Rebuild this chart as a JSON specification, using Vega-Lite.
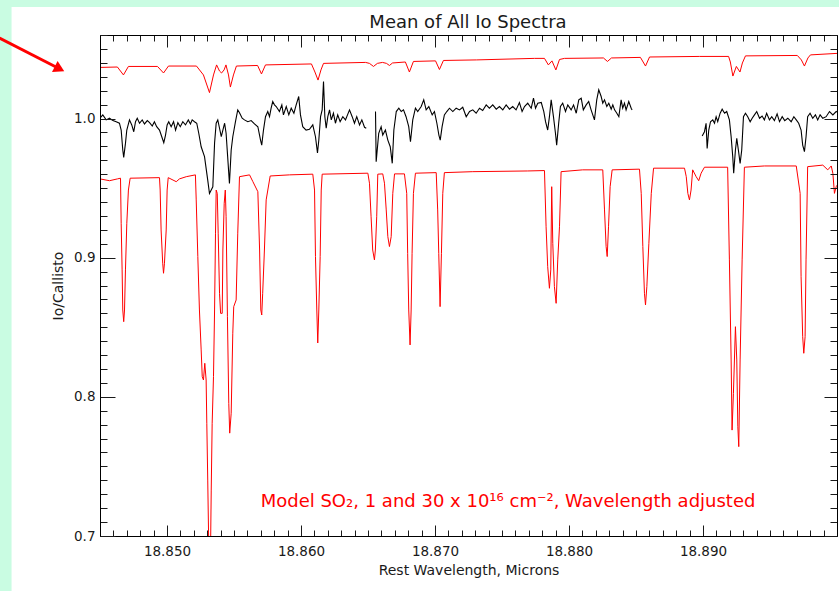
{
"$schema":"https://vega.github.io/schema/vega-lite/v6.json",
"width":737,"height":501,
"autosize":{"type":"none"},
"padding":{"left":100,"top":35,"right":2,"bottom":55},
"background":"#c9fce2",
"config":{"view":{"stroke":null},"axis":{"grid":false,"labelFont":"DejaVu Sans","titleFont":"DejaVu Sans","labelColor":"#1a1a1a","titleColor":"#1a1a1a","tickColor":"#1a1a1a","domainColor":"#000000","titleFontWeight":"normal"}},
"datasets":{
"observed":[
{"wavelength":18.845,"ratio":1.0002,"segment":1},{"wavelength":18.84521,"ratio":1.0026,"segment":1},{"wavelength":18.84546,"ratio":0.999,"segment":1},{"wavelength":18.84571,"ratio":1.0002,"segment":1},{"wavelength":18.84596,"ratio":0.9985,"segment":1},{"wavelength":18.84621,"ratio":0.9977,"segment":1},{"wavelength":18.84645,"ratio":0.9966,"segment":1},{"wavelength":18.84658,"ratio":0.9917,"segment":1},{"wavelength":18.8467,"ratio":0.9774,"segment":1},{"wavelength":18.84677,"ratio":0.9721,"segment":1},{"wavelength":18.8469,"ratio":0.9821,"segment":1},{"wavelength":18.847,"ratio":0.9917,"segment":1},{"wavelength":18.8472,"ratio":0.999,"segment":1},{"wavelength":18.84737,"ratio":0.9954,"segment":1},{"wavelength":18.84752,"ratio":0.9905,"segment":1},{"wavelength":18.84765,"ratio":0.9977,"segment":1},{"wavelength":18.84778,"ratio":1.0002,"segment":1},{"wavelength":18.84795,"ratio":0.9966,"segment":1},{"wavelength":18.84815,"ratio":0.999,"segment":1},{"wavelength":18.84832,"ratio":0.9961,"segment":1},{"wavelength":18.84853,"ratio":0.9985,"segment":1},{"wavelength":18.8487,"ratio":0.997,"segment":1},{"wavelength":18.8489,"ratio":0.9946,"segment":1},{"wavelength":18.84906,"ratio":0.9977,"segment":1},{"wavelength":18.84923,"ratio":0.9941,"segment":1},{"wavelength":18.84944,"ratio":0.9917,"segment":1},{"wavelength":18.84961,"ratio":0.9869,"segment":1},{"wavelength":18.84976,"ratio":0.9826,"segment":1},{"wavelength":18.84989,"ratio":0.9881,"segment":1},{"wavelength":18.85001,"ratio":0.9954,"segment":1},{"wavelength":18.85013,"ratio":0.9977,"segment":1},{"wavelength":18.85031,"ratio":0.9941,"segment":1},{"wavelength":18.85049,"ratio":0.9977,"segment":1},{"wavelength":18.85064,"ratio":0.9917,"segment":1},{"wavelength":18.85081,"ratio":0.997,"segment":1},{"wavelength":18.85099,"ratio":0.9941,"segment":1},{"wavelength":18.85118,"ratio":0.9977,"segment":1},{"wavelength":18.85138,"ratio":0.9954,"segment":1},{"wavelength":18.85159,"ratio":0.999,"segment":1},{"wavelength":18.85175,"ratio":0.9961,"segment":1},{"wavelength":18.85188,"ratio":0.999,"segment":1},{"wavelength":18.85205,"ratio":0.9977,"segment":1},{"wavelength":18.85222,"ratio":0.9966,"segment":1},{"wavelength":18.85237,"ratio":0.9894,"segment":1},{"wavelength":18.85255,"ratio":0.9797,"segment":1},{"wavelength":18.8528,"ratio":0.9726,"segment":1},{"wavelength":18.85304,"ratio":0.9557,"segment":1},{"wavelength":18.85317,"ratio":0.9461,"segment":1},{"wavelength":18.85342,"ratio":0.9509,"segment":1},{"wavelength":18.85355,"ratio":0.9824,"segment":1},{"wavelength":18.85367,"ratio":0.9966,"segment":1},{"wavelength":18.85379,"ratio":0.999,"segment":1},{"wavelength":18.85392,"ratio":0.993,"segment":1},{"wavelength":18.85405,"ratio":0.9869,"segment":1},{"wavelength":18.8543,"ratio":0.9966,"segment":1},{"wavelength":18.85441,"ratio":0.9894,"segment":1},{"wavelength":18.85466,"ratio":0.9534,"segment":1},{"wavelength":18.85479,"ratio":0.9774,"segment":1},{"wavelength":18.85491,"ratio":0.9869,"segment":1},{"wavelength":18.85511,"ratio":0.9977,"segment":1},{"wavelength":18.85528,"ratio":1.0062,"segment":1},{"wavelength":18.85541,"ratio":1.0042,"segment":1},{"wavelength":18.85561,"ratio":1.0002,"segment":1},{"wavelength":18.85578,"ratio":0.999,"segment":1},{"wavelength":18.85603,"ratio":0.9977,"segment":1},{"wavelength":18.85628,"ratio":0.9985,"segment":1},{"wavelength":18.85653,"ratio":0.9961,"segment":1},{"wavelength":18.85678,"ratio":0.9941,"segment":1},{"wavelength":18.85698,"ratio":0.9845,"segment":1},{"wavelength":18.85707,"ratio":0.9809,"segment":1},{"wavelength":18.8572,"ratio":0.9917,"segment":1},{"wavelength":18.85735,"ratio":1.0013,"segment":1},{"wavelength":18.85752,"ratio":1.005,"segment":1},{"wavelength":18.85765,"ratio":1.0013,"segment":1},{"wavelength":18.85777,"ratio":1.0074,"segment":1},{"wavelength":18.85789,"ratio":1.0122,"segment":1},{"wavelength":18.85802,"ratio":1.0098,"segment":1},{"wavelength":18.85815,"ratio":1.0086,"segment":1},{"wavelength":18.85839,"ratio":1.005,"segment":1},{"wavelength":18.85857,"ratio":1.0098,"segment":1},{"wavelength":18.85869,"ratio":1.0026,"segment":1},{"wavelength":18.8589,"ratio":1.0086,"segment":1},{"wavelength":18.85909,"ratio":1.0026,"segment":1},{"wavelength":18.85927,"ratio":1.0074,"segment":1},{"wavelength":18.85947,"ratio":1.0038,"segment":1},{"wavelength":18.85964,"ratio":1.0098,"segment":1},{"wavelength":18.85983,"ratio":1.0158,"segment":1},{"wavelength":18.85996,"ratio":1.0026,"segment":1},{"wavelength":18.86013,"ratio":0.9941,"segment":1},{"wavelength":18.86038,"ratio":0.9917,"segment":1},{"wavelength":18.86063,"ratio":0.9922,"segment":1},{"wavelength":18.86088,"ratio":0.9954,"segment":1},{"wavelength":18.86108,"ratio":0.9869,"segment":1},{"wavelength":18.86123,"ratio":0.9752,"segment":1},{"wavelength":18.86133,"ratio":0.9845,"segment":1},{"wavelength":18.86146,"ratio":1.0013,"segment":1},{"wavelength":18.86158,"ratio":1.0062,"segment":1},{"wavelength":18.86168,"ratio":1.0266,"segment":1},{"wavelength":18.86178,"ratio":1.0013,"segment":1},{"wavelength":18.86188,"ratio":0.993,"segment":1},{"wavelength":18.862,"ratio":1.0013,"segment":1},{"wavelength":18.86213,"ratio":1.0062,"segment":1},{"wavelength":18.86226,"ratio":0.999,"segment":1},{"wavelength":18.86242,"ratio":1.0038,"segment":1},{"wavelength":18.86257,"ratio":0.9966,"segment":1},{"wavelength":18.86274,"ratio":1.0026,"segment":1},{"wavelength":18.86292,"ratio":0.9977,"segment":1},{"wavelength":18.86312,"ratio":1.0013,"segment":1},{"wavelength":18.86332,"ratio":0.999,"segment":1},{"wavelength":18.86362,"ratio":1.0062,"segment":1},{"wavelength":18.86382,"ratio":1.0013,"segment":1},{"wavelength":18.86399,"ratio":0.9966,"segment":1},{"wavelength":18.86416,"ratio":1.0013,"segment":1},{"wavelength":18.86437,"ratio":0.9954,"segment":1},{"wavelength":18.86454,"ratio":0.999,"segment":1},{"wavelength":18.86474,"ratio":0.9937,"segment":1},{"wavelength":18.86487,"ratio":0.993,"segment":1},
{"wavelength":18.86556,"ratio":1.005,"segment":2},{"wavelength":18.86561,"ratio":0.969,"segment":2},{"wavelength":18.8658,"ratio":0.9894,"segment":2},{"wavelength":18.86598,"ratio":0.9941,"segment":2},{"wavelength":18.8661,"ratio":0.9881,"segment":2},{"wavelength":18.8663,"ratio":0.9917,"segment":2},{"wavelength":18.86648,"ratio":0.9845,"segment":2},{"wavelength":18.86666,"ratio":0.9797,"segment":2},{"wavelength":18.86681,"ratio":0.9678,"segment":2},{"wavelength":18.86693,"ratio":0.9917,"segment":2},{"wavelength":18.86711,"ratio":1.005,"segment":2},{"wavelength":18.8673,"ratio":1.0074,"segment":2},{"wavelength":18.86748,"ratio":1.005,"segment":2},{"wavelength":18.86765,"ratio":1.0062,"segment":2},{"wavelength":18.86784,"ratio":1.0013,"segment":2},{"wavelength":18.86804,"ratio":0.9941,"segment":2},{"wavelength":18.86817,"ratio":0.9833,"segment":2},{"wavelength":18.86834,"ratio":0.999,"segment":2},{"wavelength":18.86854,"ratio":1.0074,"segment":2},{"wavelength":18.86871,"ratio":1.005,"segment":2},{"wavelength":18.86897,"ratio":1.0086,"segment":2},{"wavelength":18.86916,"ratio":1.0134,"segment":2},{"wavelength":18.86934,"ratio":1.0062,"segment":2},{"wavelength":18.86954,"ratio":1.0086,"segment":2},{"wavelength":18.86979,"ratio":1.0026,"segment":2},{"wavelength":18.86996,"ratio":1.005,"segment":2},{"wavelength":18.87014,"ratio":0.9966,"segment":2},{"wavelength":18.87029,"ratio":0.9881,"segment":2},{"wavelength":18.87039,"ratio":0.9845,"segment":2},{"wavelength":18.87053,"ratio":0.9941,"segment":2},{"wavelength":18.8707,"ratio":1.0026,"segment":2},{"wavelength":18.87088,"ratio":1.005,"segment":2},{"wavelength":18.87108,"ratio":1.0074,"segment":2},{"wavelength":18.87133,"ratio":1.005,"segment":2},{"wavelength":18.87158,"ratio":1.0074,"segment":2},{"wavelength":18.87183,"ratio":1.0062,"segment":2},{"wavelength":18.87207,"ratio":1.0081,"segment":2},{"wavelength":18.87233,"ratio":1.0013,"segment":2},{"wavelength":18.87258,"ratio":1.005,"segment":2},{"wavelength":18.87282,"ratio":1.0062,"segment":2},{"wavelength":18.87307,"ratio":1.0038,"segment":2},{"wavelength":18.87332,"ratio":1.0074,"segment":2},{"wavelength":18.87356,"ratio":1.0057,"segment":2},{"wavelength":18.87382,"ratio":1.0098,"segment":2},{"wavelength":18.87406,"ratio":1.0074,"segment":2},{"wavelength":18.87431,"ratio":1.0098,"segment":2},{"wavelength":18.87457,"ratio":1.0067,"segment":2},{"wavelength":18.87481,"ratio":1.0086,"segment":2},{"wavelength":18.87506,"ratio":1.0062,"segment":2},{"wavelength":18.87531,"ratio":1.0098,"segment":2},{"wavelength":18.87556,"ratio":1.0067,"segment":2},{"wavelength":18.8758,"ratio":1.0086,"segment":2},{"wavelength":18.87605,"ratio":1.0062,"segment":2},{"wavelength":18.8763,"ratio":1.0115,"segment":2},{"wavelength":18.8765,"ratio":1.005,"segment":2},{"wavelength":18.87668,"ratio":1.0086,"segment":2},{"wavelength":18.87692,"ratio":1.011,"segment":2},{"wavelength":18.87718,"ratio":1.0074,"segment":2},{"wavelength":18.87735,"ratio":1.0146,"segment":2},{"wavelength":18.8775,"ratio":1.0074,"segment":2},{"wavelength":18.87767,"ratio":1.011,"segment":2},{"wavelength":18.87793,"ratio":1.0115,"segment":2},{"wavelength":18.87812,"ratio":1.005,"segment":2},{"wavelength":18.87825,"ratio":0.9977,"segment":2},{"wavelength":18.87841,"ratio":0.9917,"segment":2},{"wavelength":18.87854,"ratio":1.0013,"segment":2},{"wavelength":18.87867,"ratio":1.0134,"segment":2},{"wavelength":18.87884,"ratio":1.0013,"segment":2},{"wavelength":18.87899,"ratio":0.9894,"segment":2},{"wavelength":18.87908,"ratio":0.9809,"segment":2},{"wavelength":18.87923,"ratio":0.9966,"segment":2},{"wavelength":18.87936,"ratio":1.0086,"segment":2},{"wavelength":18.87953,"ratio":1.011,"segment":2},{"wavelength":18.87974,"ratio":1.005,"segment":2},{"wavelength":18.87991,"ratio":1.0098,"segment":2},{"wavelength":18.88016,"ratio":1.0062,"segment":2},{"wavelength":18.88034,"ratio":1.0098,"segment":2},{"wavelength":18.88054,"ratio":1.0038,"segment":2},{"wavelength":18.88073,"ratio":1.0134,"segment":2},{"wavelength":18.88091,"ratio":1.0146,"segment":2},{"wavelength":18.88107,"ratio":1.0062,"segment":2},{"wavelength":18.88128,"ratio":1.0098,"segment":2},{"wavelength":18.88147,"ratio":1.0122,"segment":2},{"wavelength":18.88165,"ratio":1.0062,"segment":2},{"wavelength":18.8819,"ratio":0.999,"segment":2},{"wavelength":18.88207,"ratio":1.0134,"segment":2},{"wavelength":18.88222,"ratio":1.0206,"segment":2},{"wavelength":18.8824,"ratio":1.0158,"segment":2},{"wavelength":18.88252,"ratio":1.011,"segment":2},{"wavelength":18.88265,"ratio":1.0134,"segment":2},{"wavelength":18.88282,"ratio":1.0086,"segment":2},{"wavelength":18.88297,"ratio":1.011,"segment":2},{"wavelength":18.88315,"ratio":1.0067,"segment":2},{"wavelength":18.88327,"ratio":1.0098,"segment":2},{"wavelength":18.8834,"ratio":1.0062,"segment":2},{"wavelength":18.88357,"ratio":1.0038,"segment":2},{"wavelength":18.88372,"ratio":1.0013,"segment":2},{"wavelength":18.88389,"ratio":1.0134,"segment":2},{"wavelength":18.88401,"ratio":1.0074,"segment":2},{"wavelength":18.88414,"ratio":1.011,"segment":2},{"wavelength":18.88426,"ratio":1.0062,"segment":2},{"wavelength":18.88446,"ratio":1.0122,"segment":2},{"wavelength":18.88464,"ratio":1.0074,"segment":2},{"wavelength":18.88471,"ratio":1.0062,"segment":2},
{"wavelength":18.88994,"ratio":0.9874,"segment":3},{"wavelength":18.89011,"ratio":0.9905,"segment":3},{"wavelength":18.89023,"ratio":0.9966,"segment":3},{"wavelength":18.89031,"ratio":0.9785,"segment":3},{"wavelength":18.89043,"ratio":0.9917,"segment":3},{"wavelength":18.89056,"ratio":0.9977,"segment":3},{"wavelength":18.89073,"ratio":0.999,"segment":3},{"wavelength":18.89086,"ratio":0.9966,"segment":3},{"wavelength":18.89098,"ratio":1.0013,"segment":3},{"wavelength":18.8911,"ratio":0.9977,"segment":3},{"wavelength":18.89128,"ratio":1.0038,"segment":3},{"wavelength":18.89143,"ratio":1.0067,"segment":3},{"wavelength":18.89161,"ratio":1.0038,"segment":3},{"wavelength":18.89177,"ratio":1.005,"segment":3},{"wavelength":18.89197,"ratio":0.999,"segment":3},{"wavelength":18.8921,"ratio":0.9869,"segment":3},{"wavelength":18.89222,"ratio":0.9726,"segment":3},{"wavelength":18.89229,"ratio":0.9606,"segment":3},{"wavelength":18.89242,"ratio":0.9774,"segment":3},{"wavelength":18.89252,"ratio":0.9857,"segment":3},{"wavelength":18.89264,"ratio":0.9774,"segment":3},{"wavelength":18.89277,"ratio":0.9678,"segment":3},{"wavelength":18.89289,"ratio":0.9774,"segment":3},{"wavelength":18.89302,"ratio":1.0013,"segment":3},{"wavelength":18.89317,"ratio":1.0038,"segment":3},{"wavelength":18.89334,"ratio":1.0013,"segment":3},{"wavelength":18.89352,"ratio":0.9977,"segment":3},{"wavelength":18.89367,"ratio":1.0002,"segment":3},{"wavelength":18.89384,"ratio":1.0026,"segment":3},{"wavelength":18.89401,"ratio":1.005,"segment":3},{"wavelength":18.89422,"ratio":1.0002,"segment":3},{"wavelength":18.89441,"ratio":1.0018,"segment":3},{"wavelength":18.89458,"ratio":0.999,"segment":3},{"wavelength":18.89475,"ratio":1.0038,"segment":3},{"wavelength":18.89496,"ratio":0.999,"segment":3},{"wavelength":18.89513,"ratio":1.0013,"segment":3},{"wavelength":18.89533,"ratio":0.9985,"segment":3},{"wavelength":18.89553,"ratio":1.0033,"segment":3},{"wavelength":18.89571,"ratio":0.9977,"segment":3},{"wavelength":18.89591,"ratio":1.0013,"segment":3},{"wavelength":18.8961,"ratio":0.9985,"segment":3},{"wavelength":18.89633,"ratio":1.0002,"segment":3},{"wavelength":18.89658,"ratio":0.9977,"segment":3},{"wavelength":18.89678,"ratio":1.0013,"segment":3},{"wavelength":18.89696,"ratio":0.999,"segment":3},{"wavelength":18.89714,"ratio":0.9966,"segment":3},{"wavelength":18.89732,"ratio":0.9917,"segment":3},{"wavelength":18.89744,"ratio":0.9809,"segment":3},{"wavelength":18.89757,"ratio":0.9762,"segment":3},{"wavelength":18.89769,"ratio":0.9869,"segment":3},{"wavelength":18.89781,"ratio":1.0013,"segment":3},{"wavelength":18.89799,"ratio":1.0038,"segment":3},{"wavelength":18.89819,"ratio":1.0002,"segment":3},{"wavelength":18.89839,"ratio":1.0026,"segment":3},{"wavelength":18.89856,"ratio":0.999,"segment":3},{"wavelength":18.89874,"ratio":1.0026,"segment":3},{"wavelength":18.89894,"ratio":1.0002,"segment":3},{"wavelength":18.89919,"ratio":1.0013,"segment":3},{"wavelength":18.89944,"ratio":1.005,"segment":3},{"wavelength":18.89969,"ratio":1.0026,"segment":3},{"wavelength":18.89994,"ratio":1.005,"segment":3},{"wavelength":18.9002,"ratio":1.0036,"segment":3}
],
"model_1e16":[
{"wavelength":18.845,"ratio":1.0367},{"wavelength":18.8463,"ratio":1.037},{"wavelength":18.84675,"ratio":1.0313},{"wavelength":18.84712,"ratio":1.0374},{"wavelength":18.84929,"ratio":1.0374},{"wavelength":18.84974,"ratio":1.0327},{"wavelength":18.85011,"ratio":1.0377},{"wavelength":18.8522,"ratio":1.0377},{"wavelength":18.85272,"ratio":1.0313},{"wavelength":18.85317,"ratio":1.0186},{"wavelength":18.85347,"ratio":1.0313},{"wavelength":18.8537,"ratio":1.0385},{"wavelength":18.85392,"ratio":1.0341},{"wavelength":18.85407,"ratio":1.0327},{"wavelength":18.85426,"ratio":1.0349},{"wavelength":18.8544,"ratio":1.0385},{"wavelength":18.85459,"ratio":1.0313},{"wavelength":18.85473,"ratio":1.0226},{"wavelength":18.85496,"ratio":1.0313},{"wavelength":18.85518,"ratio":1.0377},{"wavelength":18.85676,"ratio":1.0381},{"wavelength":18.85705,"ratio":1.032},{"wavelength":18.85735,"ratio":1.0385},{"wavelength":18.86078,"ratio":1.0392},{"wavelength":18.86104,"ratio":1.0334},{"wavelength":18.86127,"ratio":1.0276},{"wavelength":18.86149,"ratio":1.0349},{"wavelength":18.86168,"ratio":1.0396},{"wavelength":18.86482,"ratio":1.0403},{"wavelength":18.86511,"ratio":1.0396},{"wavelength":18.86541,"ratio":1.0374},{"wavelength":18.8657,"ratio":1.0396},{"wavelength":18.86608,"ratio":1.0403},{"wavelength":18.86638,"ratio":1.0396},{"wavelength":18.8666,"ratio":1.0381},{"wavelength":18.86683,"ratio":1.0399},{"wavelength":18.86779,"ratio":1.0406},{"wavelength":18.86809,"ratio":1.0334},{"wavelength":18.86839,"ratio":1.041},{"wavelength":18.87004,"ratio":1.0414},{"wavelength":18.87033,"ratio":1.0352},{"wavelength":18.87063,"ratio":1.0417},{"wavelength":18.87309,"ratio":1.0421},{"wavelength":18.87742,"ratio":1.0432},{"wavelength":18.87817,"ratio":1.0432},{"wavelength":18.87846,"ratio":1.0385},{"wavelength":18.87873,"ratio":1.0414},{"wavelength":18.87902,"ratio":1.0349},{"wavelength":18.87929,"ratio":1.0424},{"wavelength":18.87966,"ratio":1.0432},{"wavelength":18.88257,"ratio":1.0435},{"wavelength":18.88287,"ratio":1.041},{"wavelength":18.88317,"ratio":1.0435},{"wavelength":18.88533,"ratio":1.0439},{"wavelength":18.88571,"ratio":1.0377},{"wavelength":18.88601,"ratio":1.0442},{"wavelength":18.88973,"ratio":1.0446},{"wavelength":18.89191,"ratio":1.0446},{"wavelength":18.89204,"ratio":1.0406},{"wavelength":18.89223,"ratio":1.0305},{"wavelength":18.89249,"ratio":1.0374},{"wavelength":18.89276,"ratio":1.0334},{"wavelength":18.89294,"ratio":1.0399},{"wavelength":18.89317,"ratio":1.045},{"wavelength":18.89704,"ratio":1.0453},{"wavelength":18.89734,"ratio":1.0421},{"wavelength":18.89757,"ratio":1.0377},{"wavelength":18.89783,"ratio":1.0435},{"wavelength":18.89802,"ratio":1.0457},{"wavelength":18.9002,"ratio":1.0469}
],
"model_30e16":[
{"wavelength":18.845,"ratio":0.9566},{"wavelength":18.84571,"ratio":0.9553},{"wavelength":18.8463,"ratio":0.9566},{"wavelength":18.84653,"ratio":0.9571},{"wavelength":18.84658,"ratio":0.9247},{"wavelength":18.84665,"ratio":0.8912},{"wavelength":18.8467,"ratio":0.8624},{"wavelength":18.84677,"ratio":0.854},{"wavelength":18.84683,"ratio":0.8624},{"wavelength":18.8469,"ratio":0.8912},{"wavelength":18.847,"ratio":0.9247},{"wavelength":18.84712,"ratio":0.9486},{"wavelength":18.84725,"ratio":0.9571},{"wavelength":18.84944,"ratio":0.9575},{"wavelength":18.84949,"ratio":0.9486},{"wavelength":18.84956,"ratio":0.9199},{"wavelength":18.84968,"ratio":0.896},{"wavelength":18.84974,"ratio":0.8888},{"wavelength":18.84981,"ratio":0.896},{"wavelength":18.84994,"ratio":0.9199},{"wavelength":18.85001,"ratio":0.9486},{"wavelength":18.85009,"ratio":0.9575},{"wavelength":18.85069,"ratio":0.9546},{"wavelength":18.85093,"ratio":0.9566},{"wavelength":18.85144,"ratio":0.9582},{"wavelength":18.85212,"ratio":0.9595},{"wavelength":18.85218,"ratio":0.9415},{"wavelength":18.8523,"ratio":0.9008},{"wavelength":18.85242,"ratio":0.8624},{"wavelength":18.85255,"ratio":0.8337},{"wavelength":18.85263,"ratio":0.8145},{"wavelength":18.85272,"ratio":0.8121},{"wavelength":18.85282,"ratio":0.8241},{"wavelength":18.85292,"ratio":0.8121},{"wavelength":18.85297,"ratio":0.781},{"wavelength":18.85304,"ratio":0.7402},{"wavelength":18.85312,"ratio":0.69},{"wavelength":18.85325,"ratio":0.69},{"wavelength":18.8533,"ratio":0.733},{"wavelength":18.85337,"ratio":0.781},{"wavelength":18.85347,"ratio":0.8145},{"wavelength":18.85355,"ratio":0.8624},{"wavelength":18.85362,"ratio":0.9176},{"wavelength":18.85367,"ratio":0.9486},{"wavelength":18.85375,"ratio":0.9462},{"wavelength":18.85382,"ratio":0.9176},{"wavelength":18.85392,"ratio":0.8744},{"wavelength":18.854,"ratio":0.86},{"wavelength":18.85412,"ratio":0.86},{"wavelength":18.85417,"ratio":0.9055},{"wavelength":18.85427,"ratio":0.9391},{"wavelength":18.85435,"ratio":0.9486},{"wavelength":18.85441,"ratio":0.9294},{"wavelength":18.85451,"ratio":0.8576},{"wavelength":18.85461,"ratio":0.7953},{"wavelength":18.85468,"ratio":0.7739},{"wavelength":18.85479,"ratio":0.7882},{"wavelength":18.85491,"ratio":0.8457},{"wavelength":18.85498,"ratio":0.8648},{"wavelength":18.85516,"ratio":0.8696},{"wavelength":18.85528,"ratio":0.9176},{"wavelength":18.85541,"ratio":0.9582},{"wavelength":18.85616,"ratio":0.9595},{"wavelength":18.85641,"ratio":0.9546},{"wavelength":18.85678,"ratio":0.9474},{"wavelength":18.85691,"ratio":0.9055},{"wavelength":18.857,"ratio":0.8624},{"wavelength":18.85707,"ratio":0.8588},{"wavelength":18.85714,"ratio":0.8744},{"wavelength":18.85727,"ratio":0.9055},{"wavelength":18.8574,"ratio":0.9415},{"wavelength":18.8577,"ratio":0.9587},{"wavelength":18.85914,"ratio":0.9595},{"wavelength":18.86088,"ratio":0.96},{"wavelength":18.86101,"ratio":0.9486},{"wavelength":18.86108,"ratio":0.9008},{"wavelength":18.86118,"ratio":0.8624},{"wavelength":18.86125,"ratio":0.8387},{"wavelength":18.86133,"ratio":0.8624},{"wavelength":18.86143,"ratio":0.9008},{"wavelength":18.86151,"ratio":0.9486},{"wavelength":18.86158,"ratio":0.96},{"wavelength":18.86499,"ratio":0.9607},{"wavelength":18.86511,"ratio":0.9535},{"wavelength":18.86523,"ratio":0.9294},{"wavelength":18.86535,"ratio":0.9055},{"wavelength":18.86548,"ratio":0.8984},{"wavelength":18.86555,"ratio":0.9055},{"wavelength":18.86565,"ratio":0.9294},{"wavelength":18.86573,"ratio":0.96},{"wavelength":18.8661,"ratio":0.9602},{"wavelength":18.86623,"ratio":0.9535},{"wavelength":18.86636,"ratio":0.9343},{"wavelength":18.86648,"ratio":0.9151},{"wavelength":18.8666,"ratio":0.908},{"wavelength":18.86673,"ratio":0.9151},{"wavelength":18.86685,"ratio":0.9462},{"wavelength":18.86698,"ratio":0.9602},{"wavelength":18.86772,"ratio":0.9602},{"wavelength":18.86789,"ratio":0.9462},{"wavelength":18.86796,"ratio":0.9031},{"wavelength":18.86804,"ratio":0.8624},{"wavelength":18.86814,"ratio":0.8373},{"wavelength":18.86822,"ratio":0.8624},{"wavelength":18.86829,"ratio":0.9031},{"wavelength":18.86839,"ratio":0.9462},{"wavelength":18.86854,"ratio":0.9607},{"wavelength":18.87009,"ratio":0.9611},{"wavelength":18.8702,"ratio":0.9343},{"wavelength":18.87028,"ratio":0.9031},{"wavelength":18.87038,"ratio":0.8648},{"wavelength":18.87048,"ratio":0.9031},{"wavelength":18.87058,"ratio":0.9462},{"wavelength":18.8707,"ratio":0.9611},{"wavelength":18.87282,"ratio":0.9618},{"wavelength":18.87692,"ratio":0.9623},{"wavelength":18.87817,"ratio":0.9626},{"wavelength":18.87829,"ratio":0.9222},{"wavelength":18.87841,"ratio":0.8935},{"wavelength":18.87854,"ratio":0.878},{"wavelength":18.87864,"ratio":0.8912},{"wavelength":18.87871,"ratio":0.951},{"wavelength":18.87879,"ratio":0.9103},{"wavelength":18.87891,"ratio":0.8792},{"wavelength":18.87904,"ratio":0.8672},{"wavelength":18.87916,"ratio":0.8984},{"wavelength":18.87929,"ratio":0.9222},{"wavelength":18.87941,"ratio":0.9618},{"wavelength":18.88102,"ratio":0.9631},{"wavelength":18.88252,"ratio":0.9631},{"wavelength":18.88265,"ratio":0.9343},{"wavelength":18.88277,"ratio":0.908},{"wavelength":18.88285,"ratio":0.9008},{"wavelength":18.88295,"ratio":0.9222},{"wavelength":18.88307,"ratio":0.951},{"wavelength":18.88322,"ratio":0.9631},{"wavelength":18.88526,"ratio":0.9636},{"wavelength":18.88539,"ratio":0.9462},{"wavelength":18.88551,"ratio":0.908},{"wavelength":18.88563,"ratio":0.8744},{"wavelength":18.88571,"ratio":0.866},{"wavelength":18.88581,"ratio":0.8792},{"wavelength":18.88596,"ratio":0.9103},{"wavelength":18.88614,"ratio":0.9462},{"wavelength":18.88631,"ratio":0.9643},{"wavelength":18.88862,"ratio":0.9643},{"wavelength":18.88875,"ratio":0.9582},{"wavelength":18.88887,"ratio":0.9462},{"wavelength":18.88899,"ratio":0.9415},{"wavelength":18.88911,"ratio":0.9486},{"wavelength":18.88923,"ratio":0.9631},{"wavelength":18.88949,"ratio":0.9582},{"wavelength":18.88968,"ratio":0.9553},{"wavelength":18.88986,"ratio":0.9607},{"wavelength":18.89011,"ratio":0.965},{"wavelength":18.89184,"ratio":0.965},{"wavelength":18.89197,"ratio":0.8984},{"wavelength":18.8921,"ratio":0.8265},{"wavelength":18.89217,"ratio":0.7761},{"wavelength":18.89227,"ratio":0.8025},{"wavelength":18.89242,"ratio":0.8504},{"wavelength":18.89252,"ratio":0.8265},{"wavelength":18.8926,"ratio":0.7785},{"wavelength":18.89267,"ratio":0.7642},{"wavelength":18.89277,"ratio":0.8265},{"wavelength":18.89292,"ratio":0.8984},{"wavelength":18.89309,"ratio":0.965},{"wavelength":18.89458,"ratio":0.9659},{"wavelength":18.89696,"ratio":0.9659},{"wavelength":18.89725,"ratio":0.9462},{"wavelength":18.89732,"ratio":0.8863},{"wavelength":18.89744,"ratio":0.8432},{"wavelength":18.89752,"ratio":0.8313},{"wavelength":18.89762,"ratio":0.8432},{"wavelength":18.89769,"ratio":0.8984},{"wavelength":18.89781,"ratio":0.9654},{"wavelength":18.89894,"ratio":0.9665},{"wavelength":18.89931,"ratio":0.9631},{"wavelength":18.89957,"ratio":0.9659},{"wavelength":18.89969,"ratio":0.9607},{"wavelength":18.89981,"ratio":0.9462},{"wavelength":18.89994,"ratio":0.951},{"wavelength":18.9002,"ratio":0.9548}
]
},
"resolve":{"axis":{"x":"independent","y":"independent"}},
"layer":[
{"data":{"values":[{}]},
 "mark":{"type":"rect","fill":"#ffffff","stroke":null,"opacity":1},
 "encoding":{
  "x":{"datum":18.8384,"type":"quantitative","scale":{"domain":[18.845,18.9],"nice":false,"zero":false},
   "axis":{"orient":"bottom","values":[18.85,18.86,18.87,18.88,18.89],"labels":false,"title":null,"grid":false,"domain":false,"ticks":true,"tickWidth":1,"tickSize":-11,"zindex":1}},
  "x2":{"datum":18.9009},
  "y":{"datum":1.0801,"type":"quantitative","scale":{"domain":[0.7,1.06],"nice":false,"zero":false},
   "axis":{"orient":"left","values":[0.7,0.8,0.9,1.0],"labels":false,"title":null,"grid":false,"domain":false,"ticks":true,"tickWidth":1,"tickSize":-15,"zindex":1}},
  "y2":{"datum":0.6541}}},
{"data":{"name":"model_30e16"},
 "mark":{"type":"line","color":"#ff0000","strokeWidth":1,"clip":true},
 "encoding":{
  "x":{"field":"wavelength","type":"quantitative","scale":{"domain":[18.845,18.9],"nice":false,"zero":false},
   "axis":{"orient":"top","values":[18.845,18.846,18.847,18.848,18.849,18.85,18.851,18.852,18.853,18.854,18.855,18.856,18.857,18.858,18.859,18.86,18.861,18.862,18.863,18.864,18.865,18.866,18.867,18.868,18.869,18.87,18.871,18.872,18.873,18.874,18.875,18.876,18.877,18.878,18.879,18.88,18.881,18.882,18.883,18.884,18.885,18.886,18.887,18.888,18.889,18.89,18.891,18.892,18.893,18.894,18.895,18.896,18.897,18.898,18.899,18.9],
    "labels":false,"title":null,"grid":false,"domain":true,"domainColor":"#000000","domainWidth":1,"ticks":true,"tickWidth":1,"tickSize":-6,"zindex":1}},
  "y":{"field":"ratio","type":"quantitative","scale":{"domain":[0.7,1.06],"nice":false,"zero":false},
   "axis":{"orient":"right","values":[0.7,0.71,0.72,0.73,0.74,0.75,0.76,0.77,0.78,0.79,0.8,0.81,0.82,0.83,0.84,0.85,0.86,0.87,0.88,0.89,0.9,0.91,0.92,0.93,0.94,0.95,0.96,0.97,0.98,0.99,1.0,1.01,1.02,1.03,1.04,1.05,1.06],
    "labels":false,"title":null,"grid":false,"domain":true,"domainColor":"#000000","domainWidth":1,"ticks":true,"tickWidth":1,"tickSize":-7,"zindex":1}}}},
{"data":{"name":"model_1e16"},
 "mark":{"type":"line","color":"#ff0000","strokeWidth":1,"clip":true},
 "encoding":{
  "x":{"field":"wavelength","type":"quantitative","scale":{"domain":[18.845,18.9],"nice":false,"zero":false},
   "axis":{"orient":"bottom","values":[18.845,18.846,18.847,18.848,18.849,18.85,18.851,18.852,18.853,18.854,18.855,18.856,18.857,18.858,18.859,18.86,18.861,18.862,18.863,18.864,18.865,18.866,18.867,18.868,18.869,18.87,18.871,18.872,18.873,18.874,18.875,18.876,18.877,18.878,18.879,18.88,18.881,18.882,18.883,18.884,18.885,18.886,18.887,18.888,18.889,18.89,18.891,18.892,18.893,18.894,18.895,18.896,18.897,18.898,18.899,18.9],
    "labels":false,"title":null,"grid":false,"domain":true,"domainColor":"#000000","domainWidth":1,"ticks":true,"tickWidth":1,"tickSize":-6,"zindex":1}},
  "y":{"field":"ratio","type":"quantitative","scale":{"domain":[0.7,1.06],"nice":false,"zero":false},
   "axis":{"orient":"left","values":[0.7,0.71,0.72,0.73,0.74,0.75,0.76,0.77,0.78,0.79,0.8,0.81,0.82,0.83,0.84,0.85,0.86,0.87,0.88,0.89,0.9,0.91,0.92,0.93,0.94,0.95,0.96,0.97,0.98,0.99,1.0,1.01,1.02,1.03,1.04,1.05,1.06],
    "labels":false,"title":null,"grid":false,"domain":true,"domainColor":"#000000","domainWidth":1,"ticks":true,"tickWidth":1,"tickSize":-7,"zindex":1}}}},
{"data":{"name":"observed"},
 "mark":{"type":"line","color":"#000000","strokeWidth":1.1,"clip":true},
 "encoding":{
  "x":{"field":"wavelength","type":"quantitative","scale":{"domain":[18.845,18.9],"nice":false,"zero":false},
   "axis":{"orient":"bottom","values":[18.85,18.86,18.87,18.88,18.89],"format":".3f","ticks":false,"domain":false,"grid":false,"labelFontSize":13.5,"labelPadding":8,"labelFlush":false,"labelOverlap":false,"title":"Rest Wavelength, Microns","titleFontSize":14,"titlePadding":6,"zindex":1}},
  "y":{"field":"ratio","type":"quantitative","scale":{"domain":[0.7,1.06],"nice":false,"zero":false},
   "axis":{"orient":"left","values":[0.7,0.8,0.9,1.0],"format":".1f","ticks":false,"domain":false,"grid":false,"labelFontSize":13.5,"labelPadding":5,"labelFlush":false,"labelOverlap":false,"title":"Io/Callisto","titleFontSize":14,"titlePadding":8,"zindex":1}},
  "detail":{"field":"segment","type":"nominal"}}},
{"data":{"values":[{}]},
 "mark":{"type":"text","text":"Model SO₂, 1 and 30 x 10¹⁶ cm⁻², Wavelength adjusted","font":"DejaVu Sans","fontSize":18,"color":"#ff0000","align":"center","baseline":"middle"},
 "encoding":{
  "x":{"datum":18.87545,"type":"quantitative","scale":{"domain":[18.845,18.9],"nice":false,"zero":false},
   "axis":{"orient":"top","values":[18.85,18.86,18.87,18.88,18.89],"labels":false,"title":null,"grid":false,"domain":false,"ticks":true,"tickWidth":1,"tickSize":-12,"zindex":1}},
  "y":{"datum":0.7245,"type":"quantitative","scale":{"domain":[0.7,1.06],"nice":false,"zero":false},
   "axis":{"orient":"right","values":[0.7,0.8,0.9,1.0],"labels":false,"title":null,"grid":false,"domain":false,"ticks":true,"tickWidth":1,"tickSize":-13,"zindex":1}}}},
{"data":{"values":[{}]},
 "mark":{"type":"text","text":"Mean of All Io Spectra","font":"DejaVu Sans","fontSize":18,"color":"#1a1a1a","align":"center","baseline":"alphabetic"},
 "encoding":{
  "x":{"datum":18.87246,"type":"quantitative","scale":{"domain":[18.845,18.9],"nice":false,"zero":false},"axis":null},
  "y":{"datum":1.065,"type":"quantitative","scale":{"domain":[0.7,1.06],"nice":false,"zero":false},"axis":null}}},
{"data":{"values":[{}]},
 "mark":{"type":"rule","color":"#ff0000","strokeWidth":3},
 "encoding":{
  "x":{"datum":18.8375,"type":"quantitative","scale":{"domain":[18.845,18.9],"nice":false,"zero":false},"axis":null},
  "x2":{"datum":18.84168},
  "y":{"datum":1.0578,"type":"quantitative","scale":{"domain":[0.7,1.06],"nice":false,"zero":false},"axis":null},
  "y2":{"datum":1.0372}}},
{"data":{"values":[{}]},
 "mark":{"type":"point","shape":"triangle-right","filled":true,"fill":"#ff0000","color":"#ff0000","opacity":1,"size":150,"angle":27,"strokeWidth":0},
 "encoding":{
  "x":{"datum":18.84198,"type":"quantitative","scale":{"domain":[18.845,18.9],"nice":false,"zero":false},"axis":null},
  "y":{"datum":1.0356,"type":"quantitative","scale":{"domain":[0.7,1.06],"nice":false,"zero":false},"axis":null}}}
]
}
